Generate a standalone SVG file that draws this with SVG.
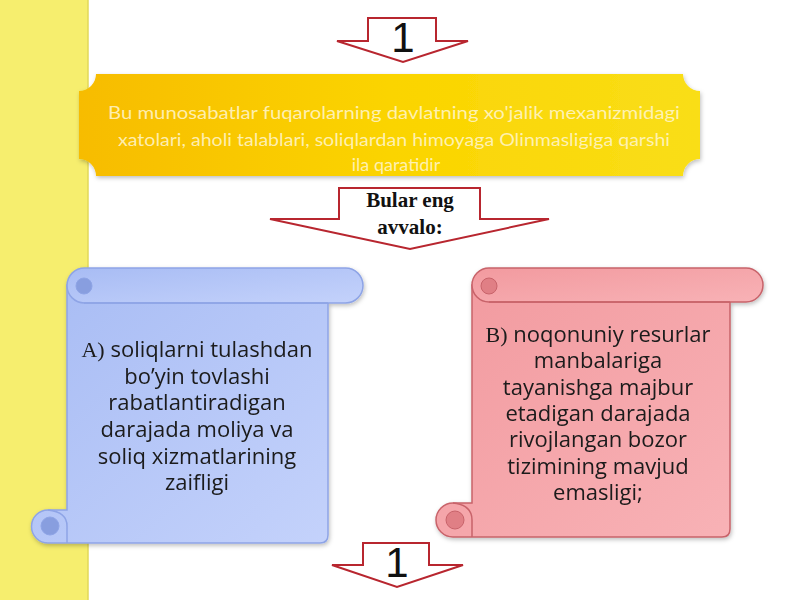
<svg xmlns="http://www.w3.org/2000/svg" width="800" height="600" viewBox="0 0 800 600">
<defs>
<linearGradient id="gy" x1="0" y1="0" x2="1" y2="0">
<stop offset="0" stop-color="#f7bc00"/><stop offset="0.5" stop-color="#fbd400"/><stop offset="1" stop-color="#f9de18"/>
</linearGradient>
<linearGradient id="gb" x1="0" y1="0" x2="1" y2="1">
<stop offset="0" stop-color="#a8bcf4"/><stop offset="1" stop-color="#c4d2fb"/>
</linearGradient>
<linearGradient id="gr" x1="0" y1="0" x2="1" y2="1">
<stop offset="0" stop-color="#f29a9f"/><stop offset="1" stop-color="#f8b2b6"/>
</linearGradient>
<filter id="sh" x="-10%" y="-10%" width="120%" height="120%">
<feDropShadow dx="1" dy="2" stdDeviation="2" flood-color="#000" flood-opacity="0.25"/>
</filter>
<style>
.arrow{fill:#fff;stroke:#b8262f;stroke-width:2;stroke-linejoin:miter}
.num{font-family:"Liberation Sans",Arial,sans-serif;font-size:42px;fill:#111;text-anchor:middle}
.ban{font-family:Lato,"Open Sans",sans-serif;font-size:18px;fill:#fff6d0;fill-opacity:0.85;text-anchor:middle}
.lbl{font-family:"Liberation Serif","Times New Roman",serif;font-size:21px;font-weight:bold;fill:#111;text-anchor:middle}
.st{font-family:"Open Sans","Noto Sans",sans-serif;font-size:22px;fill:#1a1a1a;text-anchor:middle}
.ser{font-family:"Liberation Serif","Times New Roman",serif}
.bfill{fill:url(#gb);stroke:#8ea4e6;stroke-width:1.5}
.bcurl{fill:#889edf;stroke:#8ea4e6;stroke-width:1}
.rfill{fill:url(#gr);stroke:#c8636a;stroke-width:1.5}
.rcurl{fill:#e07f85;stroke:#c8636a;stroke-width:1}
</style>
</defs>
<rect x="0" y="0" width="800" height="600" fill="#ffffff"/>
<rect x="0" y="0" width="88" height="600" fill="#f6ee6e"/>
<line x1="88" y1="0" x2="88" y2="600" stroke="#e2d95a" stroke-width="1.5"/>

<g id="arrow-top">
<polygon class="arrow" points="368,18 436,18 436,41 468,41 403,62 337,41 368,41"/>
<text class="num" x="403" y="52">1</text>
</g>

<g id="banner" filter="url(#sh)">
<path d="M96 74 L683 74 A17 17 0 0 0 700 91 L700 159 A17 17 0 0 0 683 176 L96 176 A17 17 0 0 0 79 159 L79 91 A17 17 0 0 0 96 74 Z" fill="url(#gy)"/>
</g>
<g id="banner-text">
<text class="ban" x="394" y="119" textLength="572" lengthAdjust="spacingAndGlyphs">Bu munosabatlar fuqarolarning davlatning xo'jalik mexanizmidagi</text>
<text class="ban" x="394" y="146" textLength="552" lengthAdjust="spacingAndGlyphs">xatolari, aholi talablari, soliqlardan himoyaga Olinmasligiga qarshi</text>
<text class="ban" x="396" y="171">ila qaratidir</text>
</g>

<g id="arrow-mid">
<polygon class="arrow" points="339,188 480,188 480,219 549,219 410,249 270,219 339,219"/>
<text class="lbl" x="410" y="207">Bular eng</text>
<text class="lbl" x="410" y="234">avvalo:</text>
</g>

<g id="scroll-a" filter="url(#sh)">
<path class="bfill" d="M67 285 L328 285 L328 535 Q328 543 320 543 L48 543 A16.5 16.5 0 0 1 48 510 L67 510 Z"/>
<rect class="bfill" x="67" y="268" width="296" height="35" rx="17.5"/>
<circle class="bcurl" cx="84" cy="286" r="8"/>
<line x1="84" y1="303" x2="328" y2="303" stroke="#8ea4e6" stroke-width="1.5"/>
<circle class="bcurl" cx="50" cy="526" r="9"/>
<path d="M48 510 Q67 512 67 526 L67 543" fill="none" stroke="#8ea4e6" stroke-width="1.5"/>
<text class="st" x="197" y="357"><tspan class="ser">A)</tspan> soliqlarni tulashdan</text>
<text class="st" x="197" y="384">bo’yin tovlashi</text>
<text class="st" x="197" y="410">rabatlantiradigan</text>
<text class="st" x="197" y="437">darajada moliya va</text>
<text class="st" x="197" y="464">soliq xizmatlarining</text>
<text class="st" x="197" y="490">zaifligi</text>
</g>

<g id="scroll-b" filter="url(#sh)">
<path class="rfill" d="M472 285 L730 285 L730 529 Q730 537 722 537 L453 537 A17 17 0 0 1 453 503 L472 503 Z"/>
<rect class="rfill" x="472" y="268" width="291" height="34" rx="17"/>
<circle class="rcurl" cx="489" cy="286" r="8"/>
<line x1="489" y1="302" x2="730" y2="302" stroke="#c8636a" stroke-width="1.5"/>
<circle class="rcurl" cx="455" cy="520" r="9"/>
<path d="M453 503 Q472 505 472 520 L472 537" fill="none" stroke="#c8636a" stroke-width="1.5"/>
<text class="st" x="598" y="342"><tspan class="ser">B)</tspan> noqonuniy resurlar</text>
<text class="st" x="598" y="368">manbalariga</text>
<text class="st" x="598" y="395">tayanishga majbur</text>
<text class="st" x="598" y="421">etadigan darajada</text>
<text class="st" x="598" y="447">rivojlangan bozor</text>
<text class="st" x="598" y="474">tizimining mavjud</text>
<text class="st" x="598" y="500">emasligi;</text>
</g>

<g id="arrow-bottom">
<polygon class="arrow" points="363,543 429,543 429,565 463,565 397,587 332,565 363,565"/>
<text class="num" x="397" y="577">1</text>
</g>
</svg>
